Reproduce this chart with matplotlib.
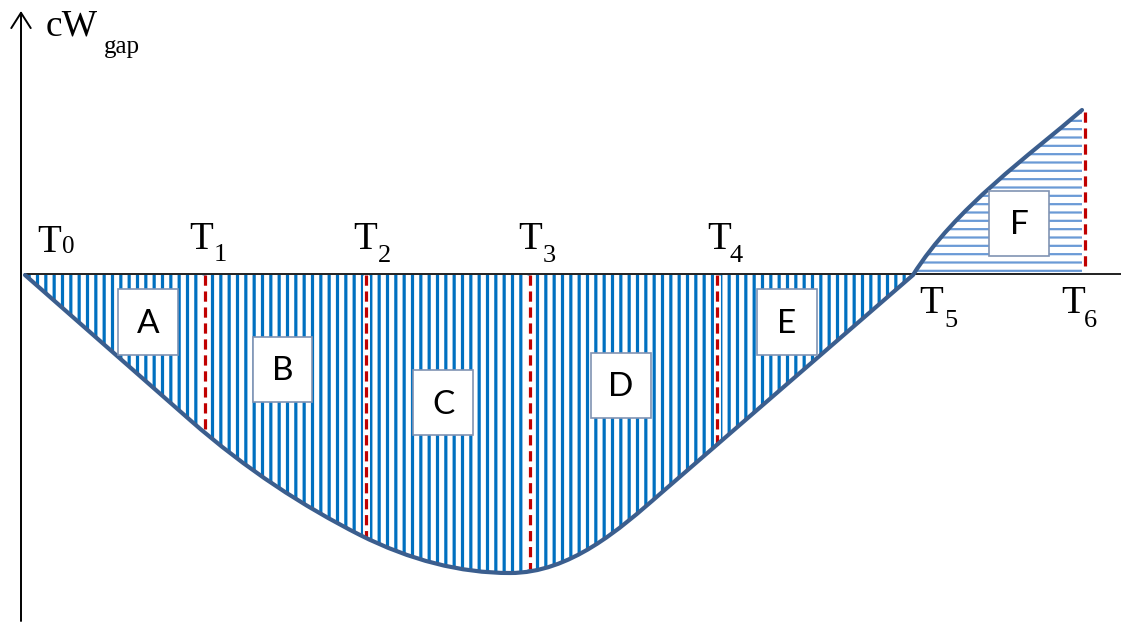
import matplotlib.pyplot as plt
from matplotlib.path import Path
from matplotlib.patches import PathPatch, Rectangle

W, H = 1121, 624

# curve of cW_gap (pixel space, y grows downward)
curve_pts = [(25, 275), (190, 420),
             (247, 470), (303, 506), (360, 535),
             (410, 560), (460, 573), (510, 573),
             (570, 573), (620, 529), (660, 494),
             (913, 275),
             (955, 208), (1030, 155), (1082, 110)]
curve_codes = [Path.MOVETO, Path.LINETO,
               Path.CURVE4, Path.CURVE4, Path.CURVE4,
               Path.CURVE4, Path.CURVE4, Path.CURVE4,
               Path.CURVE4, Path.CURVE4, Path.CURVE4,
               Path.LINETO,
               Path.CURVE4, Path.CURVE4, Path.CURVE4]
n_neg = 12          # points belonging to the part below the axis
axis_y = 274

# dashed boundaries: x, top, bottom
bound_x = [205, 366, 530, 717, 1085]
bound_top = [275, 275, 275, 275, 112]
bound_bot = [432, 537, 569, 449, 266]

# T labels
t_sub = ['0', '1', '2', '3', '4', '5', '6']
t_x = [37, 189, 353, 518, 707, 919, 1061]
t_base = [252, 249, 249, 249, 249, 313, 313]
sub_x = [62, 214, 378, 543, 729, 944, 1084]
sub_base = [253, 261, 262, 262, 262, 327, 327]
sub_size = [18, 19, 19, 19, 19, 19, 19]

# area boxes: label, left, top, right, bottom
box_lab = ['A', 'B', 'C', 'D', 'E', 'F']
box_x0 = [118, 253, 413, 591, 757, 989]
box_y0 = [289, 337, 370, 353, 289, 191]
box_x1 = [178, 312, 473, 651, 817, 1049]
box_y1 = [355, 402, 435, 418, 355, 256]

stripe_blue = '#0070C0'
curve_col = '#3B5E8E'
red = '#C00000'

fig = plt.figure(figsize=(W / 100, H / 100), dpi=100)
ax = fig.add_axes([0, 0, 1, 1])
ax.set_xlim(0, W)
ax.set_ylim(H, 0)
ax.axis('off')

# hatched area below the axis
neg_verts = curve_pts[:n_neg] + [curve_pts[0]]
neg_codes = curve_codes[:n_neg] + [Path.CLOSEPOLY]
plt.rcParams['hatch.linewidth'] = 2.3
neg = PathPatch(Path(neg_verts, neg_codes), facecolor='none',
                edgecolor=stripe_blue, lw=0, hatch='||')
ax.add_patch(neg)

# hatched area above the axis (F)
pos_verts = curve_pts[n_neg - 1:] + [(curve_pts[-1][0], axis_y), curve_pts[n_neg - 1]]
pos_codes = [Path.MOVETO] + curve_codes[n_neg:] + [Path.LINETO, Path.CLOSEPOLY]
plt.rcParams['hatch.linewidth'] = 1.6
pos = PathPatch(Path(pos_verts, pos_codes), facecolor='none',
                edgecolor='#6A9AD6', lw=0, hatch='--')
ax.add_patch(pos)

# dashed red boundaries
for x, y0, y1 in zip(bound_x, bound_top, bound_bot):
    ax.plot([x, x], [y0, y1], color='white', lw=5, solid_capstyle='butt', zorder=3)
    ax.plot([x, x], [y0, y1], color=red, lw=2.3, dashes=(3.2, 1.8), zorder=4)

# axes
ax.plot([25, W], [axis_y, axis_y], color='#202020', lw=1.4, zorder=5)
ax.annotate('', xy=(21, 11), xytext=(21, 621),
            arrowprops=dict(arrowstyle='->,head_length=1.1,head_width=0.7',
                            color='black', lw=1.4, shrinkA=0, shrinkB=0))

# the curve itself
ax.add_patch(PathPatch(Path(curve_pts, curve_codes), facecolor='none',
                       edgecolor=curve_col, lw=3, capstyle='round', zorder=6))

# area boxes
for lab, x0, y0, x1, y1 in zip(box_lab, box_x0, box_y0, box_x1, box_y1):
    ax.add_patch(Rectangle((x0, y0), x1 - x0, y1 - y0, facecolor='white',
                           edgecolor='#8093B3', lw=1.2, zorder=7))
    ax.text((x0 + x1) / 2, (y0 + y1) / 2 + 2, lab, ha='center', va='center',
            fontsize=24, family='Lato', zorder=8)

# T labels
for s, x, b, sx, sb, ss in zip(t_sub, t_x, t_base, sub_x, sub_base, sub_size):
    ax.text(x, b, 'T', fontsize=28, family='Liberation Serif', ha='left', va='baseline')
    ax.text(sx, sb, s, fontsize=ss, family='Liberation Serif', ha='left', va='baseline')

# y axis title
ax.text(46, 36, 'cW', fontsize=27, family='Liberation Serif', ha='left', va='baseline')
ax.text(104, 53, 'gap', fontsize=18, family='Liberation Serif', ha='left', va='baseline')

fig.savefig('out.png', dpi=100)
